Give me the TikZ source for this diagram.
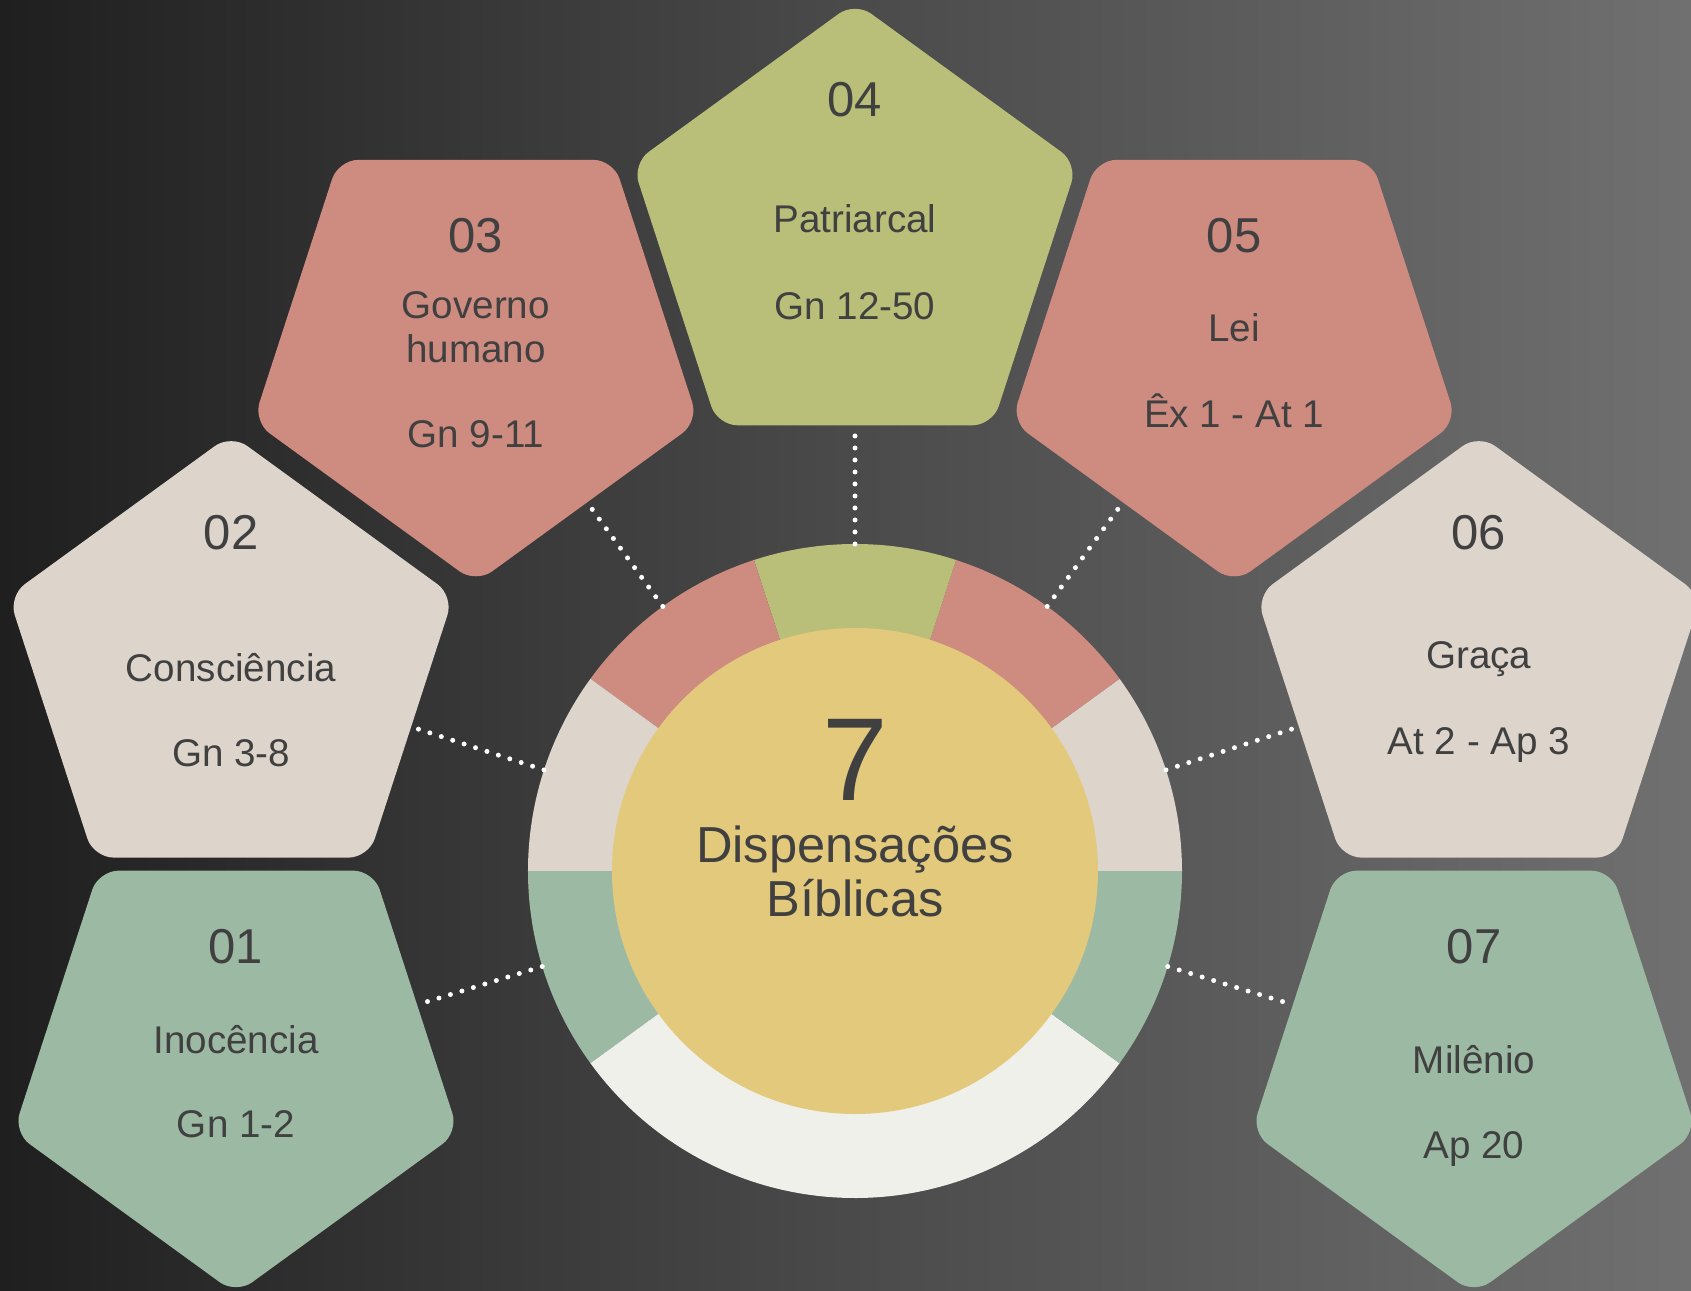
\documentclass[tikz,border=0pt]{standalone}
\usepackage{fontspec}
\setmainfont{Liberation Sans}
\usetikzlibrary{shapes.geometric}

\definecolor{bgdark}{RGB}{31,31,31}
\definecolor{bgmid}{RGB}{74,74,74}
\definecolor{bglight}{RGB}{112,112,112}
\definecolor{rosa}{RGB}{206,139,128}
\definecolor{oliva}{RGB}{185,190,120}
\definecolor{areia}{RGB}{221,213,204}
\definecolor{salvia}{RGB}{156,185,164}
\definecolor{gelo}{RGB}{239,240,233}
\definecolor{ouro}{RGB}{227,201,124}
\definecolor{tinta}{RGB}{64,64,64}

\begin{document}
\begin{tikzpicture}[x=0.5pt, y=0.5pt,
		pent/.style={regular polygon, regular polygon sides=5, minimum size=234pt, inner sep=0pt, outer sep=0pt, rounded corners=10pt, fill=#1},
		num/.style={anchor=base, text=tinta, font=\fontsize{24.5}{29}\selectfont},
		nome/.style={anchor=base, text=tinta, font=\fontsize{19.3}{23}\selectfont},
		pontos/.style={draw=white, line width=2.5pt, line cap=round, dash pattern=on 0pt off 6pt}]
			
			\useasboundingbox (-855,-419) rectangle (836,871);
			\fill[left color=bgdark, right color=bglight, middle color=bgmid] (-855,-419) rectangle (836,871);
			
			% anel
			\node[circle, minimum size=327pt, inner sep=0pt, outer sep=0pt] (ring) at (0,0) {};
			\foreach \a/\b/\c in {0/36/areia, 36/72/rosa, 72/108/oliva, 108/144/rosa, 144/180/areia, 180/216/salvia, 216/324/gelo, 324/360/salvia}
				\fill[\c] (0,0) -- (\a:327) arc[start angle=\a, end angle=\b, radius=163.5pt] -- cycle;
			
			\node[circle, fill=ouro, minimum size=243pt, inner sep=0pt] (core) at (0,0) {};
			\node[anchor=base, text=tinta, font=\fontsize{59}{59}\selectfont] (sete) at (0,70) {7};
			\node[anchor=base, text=tinta, font=\fontsize{25.3}{27}\selectfont] (disp) at (0,9) {Dispensações};
			\node[anchor=base, text=tinta, font=\fontsize{25.3}{27}\selectfont] (bibl) at (0,-45) {Bíblicas};
			
			% pentagonos
			\node[pent=salvia, shape border rotate=180] (p1) at (-619,-189) {};
			\node[pent=areia] (p2) at (162:656) {};
			\node[pent=rosa, shape border rotate=180] (p3) at (126:645) {};
			\node[pent=oliva] (p4) at (90:635) {};
			\node[pent=rosa, shape border rotate=180] (p5) at (54:645) {};
			\node[pent=areia] (p6) at (18:656) {};
			\node[pent=salvia, shape border rotate=180] (p7) at (619,-189) {};
			
			\foreach \p in {p1,p2,p3,p4,p5,p6,p7}
				\draw[pontos] (ring) -- (\p);
			
			\path (p1) ++(0,97) node[num] (n1) {01}
				(p1) ++(0,7) node[nome] (t1) {Inocência}
				(p1) ++(0,-77) node[nome] (r1) {Gn 1-2};
			\path (p2) ++(0,119) node[num] (n2) {02}
				(p2) ++(0,-13) node[nome] (t2) {Consciência}
				(p2) ++(0,-98) node[nome] (r2) {Gn 3-8};
			\path (p3) ++(0,97) node[num] (n3) {03}
				(p3) ++(0,31) node[nome] (t3) {Governo}
				(p3) ++(0,-13) node[nome] (t3b) {humano}
				(p3) ++(0,-98) node[nome] (r3) {Gn 9-11};
			\path (p4) ++(0,119) node[num] (n4) {04}
				(p4) ++(0,3) node[nome] (t4) {Patriarcal}
				(p4) ++(0,-84) node[nome] (r4) {Gn 12-50};
			\path (p5) ++(0,97) node[num] (n5) {05}
				(p5) ++(0,8) node[nome] (t5) {Lei}
				(p5) ++(0,-78) node[nome] (r5) {Êx 1 - At 1};
			\path (p6) ++(0,119) node[num] (n6) {06}
				(p6) ++(0,0) node[nome] (t6) {Graça}
				(p6) ++(0,-86) node[nome] (r6) {At 2 - Ap 3};
			\path (p7) ++(0,97) node[num] (n7) {07}
				(p7) ++(0,-13) node[nome] (t7) {Milênio}
				(p7) ++(0,-98) node[nome] (r7) {Ap 20};
			
\end{tikzpicture}
\end{document}
